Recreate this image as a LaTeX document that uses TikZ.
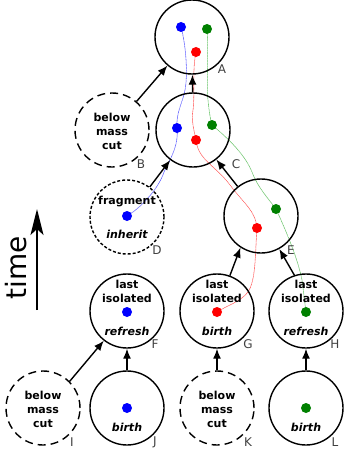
\documentclass[tikz,border=0pt]{standalone}
\usepackage{fontspec}
\setmainfont{DejaVu Sans}
\usetikzlibrary{arrows.meta}

\tikzset{
  halo/.style={circle, draw, line width=1.4pt, minimum size=74pt, inner sep=0pt},
  cutoff/.style={halo, dash pattern=on 8pt off 5pt},
  frag/.style={halo, dash pattern=on 3pt off 2pt},
  gal/.style={circle, fill=#1, minimum size=10pt, inner sep=0pt},
  tag/.style={font=\fontsize{12}{12}\selectfont, text=black!75},
  txt/.style={font=\fontsize{11}{14}\selectfont\bfseries, align=center, inner sep=0pt},
  act/.style={font=\fontsize{11}{14}\selectfont\bfseries\itshape, inner sep=0pt},
  evo/.style={-{Latex[length=10pt,width=8pt]}, line width=1.4pt},
  trail/.style={line width=0.55pt, dash pattern=on 1.2pt off 0.4pt, #1}
}

\begin{document}
\begin{tikzpicture}[x=1pt,y=-1pt]
      \useasboundingbox (0,0) rectangle (344,452);

      % where the galaxies sit
      \coordinate (ab) at (181,27);
      \coordinate (ag) at (207,29);
      \coordinate (ar) at (196,52);
      \coordinate (cb) at (177,128);
      \coordinate (cg) at (212,125);
      \coordinate (cr) at (196,140);
      \coordinate (db) at (127,216);
      \coordinate (eg) at (276,209);
      \coordinate (er) at (257,228);
      \coordinate (fb) at (127,312);
      \coordinate (gr) at (217,312);
      \coordinate (hg) at (306,312);
      \coordinate (jb) at (127,408);
      \coordinate (lg) at (306,408);

      % trajectories
      \draw[trail=blue!65] (ab) .. controls (186,45) and (188,75) .. (185,90) .. controls (182,105) and (176,112) .. (cb);
      \draw[trail=blue!65] (cb) .. controls (179,145) and (170,160) .. (164,172) .. controls (160,185) and (145,205) .. (db);
      \draw[trail=red!65] (ar) .. controls (192,70) and (195,100) .. (193,110) .. controls (191,120) and (194,130) .. (cr);
      \draw[trail=red!65] (cr) .. controls (198,160) and (215,165) .. (230,185) .. controls (245,205) and (255,210) .. (er);
      \draw[trail=red!65] (er) .. controls (255,255) and (256,280) .. (248,292) .. controls (240,302) and (228,305) .. (gr);
      \draw[trail=green!60!black!60] (ag) .. controls (209,55) and (206,90) .. (208,100) .. controls (209,110) and (210,118) .. (cg);
      \draw[trail=green!60!black!60] (cg) .. controls (230,140) and (245,155) .. (252,172) .. controls (258,188) and (268,198) .. (eg);
      \draw[trail=green!60!black!60] (eg) .. controls (288,235) and (298,260) .. (302,280) .. controls (304,295) and (305,305) .. (hg);

      % haloes
      \node[halo] (A) at (192,37) {};
      \node[cutoff] (B) at (112,130) {};
      \node[halo] (C) at (193,130) {};
      \node[frag] (D) at (127,217) {};
      \node[halo] (E) at (261,216) {};
      \node[halo] (F) at (127,311) {};
      \node[halo] (G) at (217,311) {};
      \node[halo] (H) at (306,311) {};
      \node[cutoff] (I) at (43,408) {};
      \node[halo] (J) at (127,408) {};
      \node[cutoff] (K) at (217,408) {};
      \node[halo] (L) at (306,408) {};

      \node[gal=blue] (A-b) at (ab) {};
      \node[gal=green!50!black] (A-g) at (ag) {};
      \node[gal=red] (A-r) at (ar) {};
      \node[gal=blue] (C-b) at (cb) {};
      \node[gal=green!50!black] (C-g) at (cg) {};
      \node[gal=red] (C-r) at (cr) {};
      \node[gal=blue] (D-b) at (db) {};
      \node[gal=green!50!black] (E-g) at (eg) {};
      \node[gal=red] (E-r) at (er) {};
      \node[gal=blue] (F-b) at (fb) {};
      \node[gal=red] (G-r) at (gr) {};
      \node[gal=green!50!black] (H-g) at (hg) {};
      \node[gal=blue] (J-b) at (jb) {};
      \node[gal=green!50!black] (L-g) at (lg) {};

      % texts
      \node[txt] (B-txt) at (112,131) {below\\mass\\cut};
      \node[txt] (I-txt) at (43,409) {below\\mass\\cut};
      \node[txt] (K-txt) at (217,409) {below\\mass\\cut};
      \node[txt] (D-txt) at (127,202) {fragment};
      \node[act] (D-act) at (127,234) {inherit};
      \node[txt] (F-txt) at (127,291) {last\\isolated};
      \node[txt] (G-txt) at (217,291) {last\\isolated};
      \node[txt] (H-txt) at (306,291) {last\\isolated};
      \node[act] (F-act) at (127,331) {refresh};
      \node[act] (G-act) at (217,331) {birth};
      \node[act] (H-act) at (306,331) {refresh};
      \node[act] (J-act) at (127,427) {birth};
      \node[act] (L-act) at (306,427) {birth};

      % letters
      \node[tag] (A-lab) at (222,69) {A};
      \node[tag] (B-lab) at (141,164) {B};
      \node[tag] (C-lab) at (236,164) {C};
      \node[tag] (D-lab) at (157,250) {D};
      \node[tag] (E-lab) at (291,250) {E};
      \node[tag] (F-lab) at (155,344) {F};
      \node[tag] (G-lab) at (248,344) {G};
      \node[tag] (H-lab) at (335,344) {H};
      \node[tag] (I-lab) at (72,442) {I};
      \node[tag] (J-lab) at (155,442) {J};
      \node[tag] (K-lab) at (248,442) {K};
      \node[tag] (L-lab) at (335,442) {L};

      % merger tree
      \draw[evo] (B) -- (A);
      \draw[evo] (C) -- (A);
      \draw[evo] (D) -- (C);
      \draw[evo] (E) -- (C);
      \draw[evo] (G.70) -- (E.237);
      \draw[evo] (H.108) -- (E.-61);
      \draw[evo] (I.45) -- (F.232);
      \draw[evo] (J) -- (F);
      \draw[evo] (K) -- (G);
      \draw[evo] (L) -- (H);

      % time axis
      \coordinate (t0) at (37,310);
      \coordinate (t1) at (37,209);
      \draw[line width=1.8pt, -{Stealth[length=26pt,width=13pt,inset=6pt]}] (t0) -- (t1);
      \node[rotate=90, font=\fontsize{28}{28}\selectfont] (time) at (16,268) {time};

\end{tikzpicture}
\end{document}
